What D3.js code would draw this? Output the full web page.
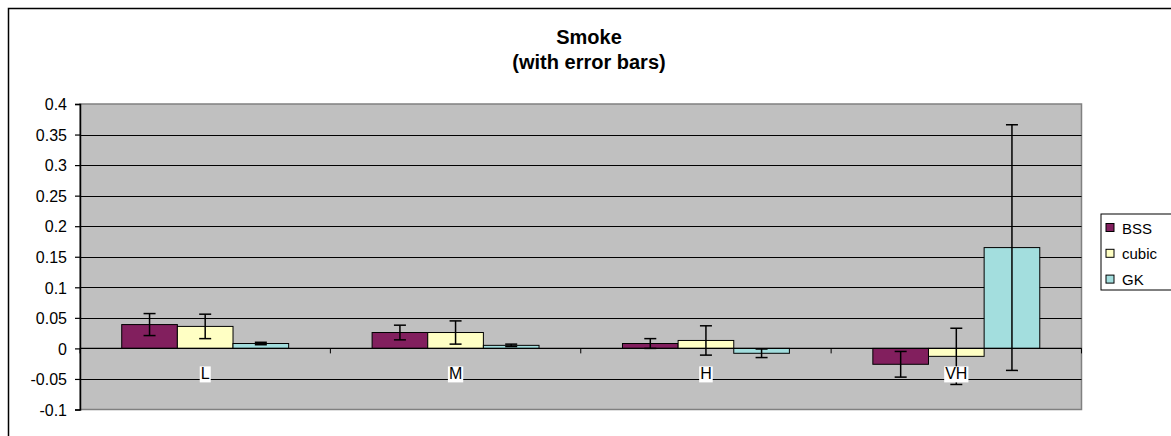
<!DOCTYPE html>
<html>
<head>
<meta charset="utf-8">
<script src="https://cdn.jsdelivr.net/npm/d3@7/dist/d3.min.js"></script>
<style>
  body { margin: 0; background: #fff; }
  text { font-family: "Liberation Sans", Arial, sans-serif; }
</style>
</head>
<body>
<svg id="chart" width="1171" height="436"></svg>
<script>
var categories = ["L", "M", "H", "VH"]
var seriesNames = ["BSS", "cubic", "GK"]
var seriesColors = ["#821f5e", "#ffffc4", "#a3dede"]
var bssValues = [0.039, 0.026, 0.008, -0.026]
var bssErrors = [0.018, 0.012, 0.008, 0.021]
var cubicValues = [0.036, 0.026, 0.013, -0.013]
var cubicErrors = [0.020, 0.019, 0.024, 0.046]
var gkValues = [0.008, 0.005, -0.008, 0.165]
var gkErrors = [0.002, 0.002, 0.007, 0.201]
var yTicks = [0.4, 0.35, 0.3, 0.25, 0.2, 0.15, 0.1, 0.05, 0, -0.05, -0.1]

var allValues = [bssValues, cubicValues, gkValues]
var allErrors = [bssErrors, cubicErrors, gkErrors]

var svg = d3.select("#chart")
var plotLeft = 80, plotRight = 1081.5, plotTop = 104, plotBottom = 409.5

// outer frame
svg.append("rect")
  .attr("x", 8.5).attr("y", 8.5)
  .attr("width", 1200).attr("height", 500)
  .attr("fill", "#fff").attr("stroke", "#000").attr("stroke-width", 1.5)

svg.append("text").attr("x", 589).attr("y", 44)
  .attr("text-anchor", "middle").style("font-size", "20px").style("font-weight", "bold")
  .text("Smoke")
svg.append("text").attr("x", 589).attr("y", 69)
  .attr("text-anchor", "middle").style("font-size", "20px").style("font-weight", "bold")
  .text("(with error bars)")

var y = d3.scaleLinear().domain([-0.1, 0.4]).range([plotBottom, plotTop])
var x0 = d3.scaleBand().domain(categories).range([plotLeft, plotRight]).paddingInner(0.3333).paddingOuter(0.16667)
var x1 = d3.scaleBand().domain(seriesNames).range([0, x0.bandwidth()])

// plot background
svg.append("rect")
  .attr("x", plotLeft).attr("y", plotTop)
  .attr("width", plotRight - plotLeft).attr("height", plotBottom - plotTop)
  .attr("fill", "#c0c0c0").attr("stroke", "#808080").attr("stroke-width", 1.5)

// gridlines
svg.append("g").selectAll("line")
  .data(yTicks.filter(function(d){ return d < 0.4 && d > -0.1 }))
  .enter().append("line")
  .attr("x1", plotLeft).attr("x2", plotRight)
  .attr("y1", function(d){ return Math.round(y(d)) + 0.5 })
  .attr("y2", function(d){ return Math.round(y(d)) + 0.5 })
  .attr("stroke", "#000").attr("stroke-width", 1)

// y axis
var yAxis = svg.append("g").attr("transform", "translate(" + plotLeft + ",0)")
  .call(d3.axisLeft(y).tickValues(yTicks).tickSize(5).tickPadding(8)
    .tickFormat(function(d){ return String(+d.toFixed(2)) }))
yAxis.select(".domain").attr("stroke", "#000").attr("stroke-width", 1.5)
yAxis.selectAll(".tick line").attr("stroke", "#000").attr("stroke-width", 1.2)
yAxis.selectAll("text").style("font-size", "16px").attr("fill", "#000")
  .style("font-family", "'Liberation Sans', Arial, sans-serif")
  .attr("dy", "0.36em")

// bars
var groups = svg.append("g").selectAll("g")
  .data(categories).enter().append("g")
  .attr("transform", function(d){ return "translate(" + x0(d) + ",0)" })

groups.selectAll("rect")
  .data(function(d, i){
    return seriesNames.map(function(s, j){ return {s: s, j: j, v: allValues[j][i], e: allErrors[j][i]} })
  })
  .enter().append("rect")
  .attr("x", function(d){ return x1(d.s) })
  .attr("width", x1.bandwidth())
  .attr("y", function(d){ return y(Math.max(0, d.v)) })
  .attr("height", function(d){ return Math.abs(y(d.v) - y(0)) })
  .attr("fill", function(d){ return seriesColors[d.j] })
  .attr("stroke", "#000").attr("stroke-width", 1)

// zero axis
svg.append("line")
  .attr("x1", plotLeft).attr("x2", plotRight)
  .attr("y1", y(0)).attr("y2", y(0))
  .attr("stroke", "#000").attr("stroke-width", 1.2)

// category tick marks
svg.append("g").selectAll("line")
  .data(d3.range(categories.length + 1))
  .enter().append("line")
  .attr("x1", function(i){ return plotLeft + i * (plotRight - plotLeft) / categories.length })
  .attr("x2", function(i){ return plotLeft + i * (plotRight - plotLeft) / categories.length })
  .attr("y1", y(0)).attr("y2", y(0) + 5)
  .attr("stroke", "#000").attr("stroke-width", 1)

// category labels with white boxes
var labels = svg.append("g").selectAll("g")
  .data(categories).enter().append("g")
  .attr("transform", function(d){ return "translate(" + (x0(d) + x0.bandwidth() / 2) + "," + (y(0) + 31) + ")" })
labels.append("text")
  .attr("text-anchor", "middle").style("font-size", "16px")
  .text(function(d){ return d })
labels.each(function(){
  var g = d3.select(this)
  var b = g.select("text").node().getBBox()
  g.insert("rect", "text").attr("x", b.x - 1).attr("y", b.y + 1).attr("width", b.width + 2).attr("height", b.height - 1).attr("fill", "#fff")
})

// error bars
var err = groups.selectAll("g.err")
  .data(function(d, i){
    return seriesNames.map(function(s, j){ return {s: s, j: j, v: allValues[j][i], e: allErrors[j][i]} })
  })
  .enter().append("g").attr("class", "err")
  .attr("transform", function(d){ return "translate(" + (x1(d.s) + x1.bandwidth() / 2) + ",0)" })
err.append("line")
  .attr("y1", function(d){ return y(d.v + d.e) }).attr("y2", function(d){ return y(d.v - d.e) })
  .attr("stroke", "#000").attr("stroke-width", 1.5)
err.append("line").attr("x1", -6).attr("x2", 6)
  .attr("y1", function(d){ return y(d.v + d.e) }).attr("y2", function(d){ return y(d.v + d.e) })
  .attr("stroke", "#000").attr("stroke-width", 1.5)
err.append("line").attr("x1", -6).attr("x2", 6)
  .attr("y1", function(d){ return y(d.v - d.e) }).attr("y2", function(d){ return y(d.v - d.e) })
  .attr("stroke", "#000").attr("stroke-width", 1.5)

// legend
var legend = svg.append("g").attr("transform", "translate(1101,214)")
legend.append("rect").attr("width", 72).attr("height", 76)
  .attr("fill", "#fff").attr("stroke", "#000").attr("stroke-width", 1)
var items = legend.selectAll("g.item").data(seriesNames).enter().append("g")
  .attr("transform", function(d, i){ return "translate(5," + (13.5 + i * 25.8) + ")" })
items.append("rect").attr("x", 0).attr("y", -4).attr("width", 8).attr("height", 8)
  .attr("fill", function(d, i){ return seriesColors[i] }).attr("stroke", "#000").attr("stroke-width", 1)
items.append("text").attr("x", 16).attr("y", 6).style("font-size", "15px")
  .text(function(d){ return d })
</script>
</body>
</html>
